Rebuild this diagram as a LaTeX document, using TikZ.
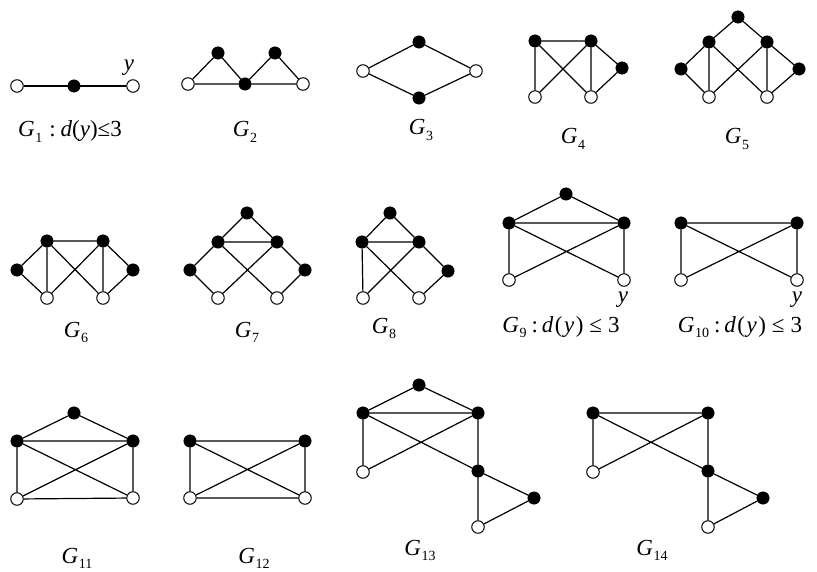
\documentclass[tikz,border=0pt]{standalone}
\usepackage{fontspec}
\setmainfont{Liberation Serif}
\newcommand{\gsub}[1]{\textit{G}\kern0.5pt\raisebox{-0.22em}{\fontsize{14}{14}\selectfont #1}}
\newcommand{\dy}{\textit{d}\kern1.5pt(\kern1.5pt\textit{y}\kern1.5pt)}
\tikzset{
  bn/.style={circle,fill=black,draw=black,minimum size=12.5pt,inner sep=0pt},
  wn/.style={circle,fill=white,draw=black,line width=1pt,minimum size=12.5pt,inner sep=0pt},
  ed/.style={line width=1.2pt},
  lab/.style={font=\fontsize{23}{23}\selectfont,inner sep=0pt,anchor=base}
}
\begin{document}
\begin{tikzpicture}[x=1pt,y=-1pt]
\useasboundingbox[fill=white] (0,0) rectangle (817,572);
% G1
\node[wn] (a1) at (17,86) {};
\node[bn] (a2) at (74,86) {};
\node[wn] (a3) at (133,86) {};
\draw[ed] (a1)--(a2)--(a3);
\node[lab] (ay) at (129,71) {\textit{y}};
\node[lab] (al) at (70,137) {\gsub{1}\hspace{7pt}:\hspace{5pt}\textit{d}(\textit{y})≤3};
% G2
\node[wn] (b1) at (188,84) {};
\node[bn] (b2) at (218,53) {};
\node[bn] (b3) at (245,84) {};
\node[bn] (b4) at (275,53) {};
\node[wn] (b5) at (303,84) {};
\draw[ed] (b1)--(b2)--(b3)--(b4)--(b5)--(b3)--(b1);
\node[lab] (bl) at (245,137) {\gsub{2}};
% G3
\node[wn] (c1) at (363,71) {};
\node[bn] (c2) at (419,42) {};
\node[bn] (c3) at (419,98) {};
\node[wn] (c4) at (476,71) {};
\draw[ed] (c1)--(c2)--(c4)--(c3)--(c1);
\node[lab] (cl) at (421,135) {\gsub{3}};
% G4
\node[bn] (d1) at (535,41) {};
\node[bn] (d2) at (591,41) {};
\node[bn] (d3) at (622,68) {};
\node[wn] (d4) at (535,97) {};
\node[wn] (d5) at (591,97) {};
\draw[ed] (d1)--(d2) (d1)--(d4) (d1)--(d5) (d2)--(d4) (d2)--(d5) (d2)--(d3)--(d5);
\node[lab] (dl) at (573,144) {\gsub{4}};
% G5
\node[bn] (e0) at (738,17) {};
\node[bn] (e1) at (709,42) {};
\node[bn] (e2) at (767,42) {};
\node[bn] (e3) at (681,69) {};
\node[bn] (e4) at (799,69) {};
\node[wn] (e5) at (709,97) {};
\node[wn] (e6) at (767,97) {};
\draw[ed] (e1)--(e0)--(e2) (e1)--(e3)--(e5) (e1)--(e5) (e1)--(e6) (e2)--(e5) (e2)--(e6) (e2)--(e4)--(e6);
\node[lab] (el) at (737,144) {\gsub{5}};
% G6
\node[bn] (f1) at (47,241) {};
\node[bn] (f2) at (103,241) {};
\node[bn] (f3) at (17,270) {};
\node[bn] (f4) at (133,270) {};
\node[wn] (f5) at (47,298) {};
\node[wn] (f6) at (103,298) {};
\draw[ed] (f1)--(f2) (f1)--(f3)--(f5) (f1)--(f5) (f1)--(f6) (f2)--(f5) (f2)--(f6) (f2)--(f4)--(f6);
\node[lab] (fl) at (76,337) {\gsub{6}};
% G7
\node[bn] (g0) at (247,213) {};
\node[bn] (g1) at (218,242) {};
\node[bn] (g2) at (277,242) {};
\node[bn] (g3) at (190,270) {};
\node[bn] (g4) at (305,270) {};
\node[wn] (g5) at (218,298) {};
\node[wn] (g6) at (277,298) {};
\draw[ed] (g1)--(g0)--(g2)--(g1) (g1)--(g3)--(g5) (g1)--(g6) (g2)--(g5) (g2)--(g4)--(g6);
\node[lab] (gl) at (247,337) {\gsub{7}};
% G8
\node[bn] (h0) at (390,213) {};
\node[bn] (h1) at (362,242) {};
\node[bn] (h2) at (419,242) {};
\node[bn] (h3) at (448,271) {};
\node[wn] (h4) at (363,298) {};
\node[wn] (h5) at (419,298) {};
\draw[ed] (h1)--(h0)--(h2)--(h1) (h1)--(h4) (h1)--(h5) (h2)--(h4) (h2)--(h3)--(h5);
\node[lab] (hl) at (384,333) {\gsub{8}};
% G9
\node[bn] (i0) at (566,194) {};
\node[bn] (i1) at (509,223) {};
\node[bn] (i2) at (624,223) {};
\node[wn] (i3) at (509,280) {};
\node[wn] (i4) at (624,280) {};
\draw[ed] (i1)--(i0)--(i2)--(i1) (i1)--(i3) (i1)--(i4) (i2)--(i3) (i2)--(i4);
\node[lab] (iy) at (623,302) {\textit{y}};
\node[lab] (il) at (561,332) {\gsub{9}\hspace{5pt}:\hspace{4pt}\dy\hspace{6pt}≤\hspace{6pt}3};
% G10
\node[bn] (j1) at (681,223) {};
\node[bn] (j2) at (797,223) {};
\node[wn] (j3) at (681,280) {};
\node[wn] (j4) at (797,280) {};
\draw[ed] (j1)--(j2) (j1)--(j3) (j1)--(j4) (j2)--(j3) (j2)--(j4);
\node[lab] (jy) at (797,302) {\textit{y}};
\node[lab] (jl) at (740,332) {\gsub{10}\hspace{5pt}:\hspace{4pt}\dy\hspace{6pt}≤\hspace{6pt}3};
% G11
\node[bn] (k0) at (74,413) {};
\node[bn] (k1) at (17,441) {};
\node[bn] (k2) at (133,441) {};
\node[wn] (k3) at (17,499) {};
\node[wn] (k4) at (133,498) {};
\draw[ed] (k1)--(k0)--(k2)--(k1) (k1)--(k3)--(k4)--(k2) (k1)--(k4) (k2)--(k3);
\node[lab] (kl) at (77,563) {\gsub{11}};
% G12
\node[bn] (l1) at (190,441) {};
\node[bn] (l2) at (305,441) {};
\node[wn] (l3) at (190,498) {};
\node[wn] (l4) at (305,498) {};
\draw[ed] (l1)--(l2)--(l4)--(l3)--(l1) (l1)--(l4) (l2)--(l3);
\node[lab] (ll) at (254,563) {\gsub{12}};
% G13
\node[bn] (m0) at (419,385) {};
\node[bn] (m1) at (363,413) {};
\node[bn] (m2) at (478,413) {};
\node[wn] (m3) at (363,472) {};
\node[bn] (m4) at (478,471) {};
\node[bn] (m5) at (534,498) {};
\node[wn] (m6) at (478,527) {};
\draw[ed] (m1)--(m0)--(m2)--(m1) (m1)--(m3) (m2)--(m3) (m1)--(m4) (m2)--(m4) (m4)--(m5)--(m6)--(m4);
\node[lab] (ml) at (420,555) {\gsub{13}};
% G14
\node[bn] (n1) at (593,413) {};
\node[bn] (n2) at (708,413) {};
\node[wn] (n3) at (593,472) {};
\node[bn] (n4) at (708,471) {};
\node[bn] (n5) at (763,498) {};
\node[wn] (n6) at (708,527) {};
\draw[ed] (n1)--(n2) (n1)--(n3) (n2)--(n3) (n1)--(n4) (n2)--(n4) (n4)--(n5)--(n6)--(n4);
\node[lab] (nl) at (652,555) {\gsub{14}};
\end{tikzpicture}
\end{document}
